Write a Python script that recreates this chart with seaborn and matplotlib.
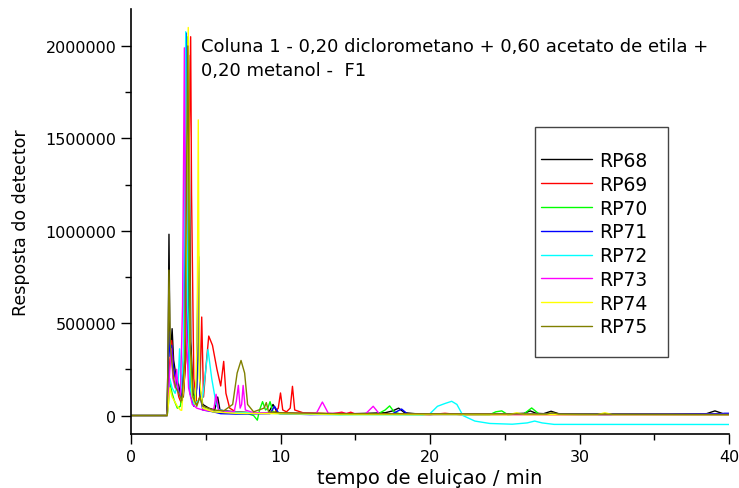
import matplotlib
matplotlib.use("Agg")
import matplotlib.pyplot as plt
import seaborn as sns
import pandas as pd
from matplotlib.ticker import MultipleLocator, FuncFormatter
from matplotlib.patches import Rectangle

# ---- data (time in min, detector response) ----
series_names = ["RP68", "RP69", "RP70", "RP71", "RP72", "RP73", "RP74", "RP75"]
series_colors = ["#000000", "#ff0000", "#00ff00", "#0000ff", "#00ffff", "#ff00ff", "#ffff00", "#808000"]

rp68 = [(0, 0), (2.40, 0), (2.48, 300000), (2.54, 981000), (2.60, 420000), (2.68, 380000), (2.75, 470000),
        (2.85, 300000), (3.0, 220000), (3.15, 180000), (3.3, 120000), (3.5, 100000), (3.65, 300000),
        (3.85, 1950000), (4.0, 400000), (4.15, 120000), (4.35, 80000), (4.45, 300000), (4.52, 860000),
        (4.6, 150000), (4.8, 60000), (5.2, 40000), (5.6, 30000), (5.8, 100000), (5.95, 30000), (6.3, 25000),
        (7.0, 20000), (8.0, 15000), (9.2, 15000), (9.5, 60000), (9.8, 15000), (11, 12000), (13, 10000),
        (15, 10000), (17.0, 15000), (17.5, 25000), (17.9, 40000), (18.3, 15000), (19, 10000), (22, 8000),
        (25, 8000), (26.3, 12000), (26.7, 25000), (27.1, 12000), (27.6, 10000), (28.1, 23000), (28.6, 10000),
        (30, 8000), (33, 8000), (36, 8000), (38.5, 10000), (39.06, 25000), (39.6, 10000), (40, 10000)]

rp69 = [(0, 0), (2.42, 0), (2.5, 150000), (2.6, 300000), (2.72, 406000), (2.85, 250000), (3.0, 180000),
        (3.2, 100000), (3.35, 70000), (3.5, 120000), (3.75, 400000), (3.9, 1500000), (3.99, 2050000),
        (4.05, 1200000), (4.1, 873000), (4.2, 200000), (4.4, 60000), (4.6, 100000), (4.73, 533000),
        (4.85, 100000), (5.0, 250000), (5.2, 430000), (5.45, 380000), (5.75, 250000), (6.0, 160000),
        (6.2, 293000), (6.35, 120000), (6.6, 40000), (7.0, 20000), (8.0, 15000), (9.6, 15000), (9.85, 40000),
        (10.0, 122000), (10.15, 30000), (10.4, 20000), (10.65, 40000), (10.8, 158000), (10.95, 30000),
        (11.5, 15000), (13.5, 10000), (14.1, 18000), (14.4, 10000), (14.7, 18000), (15.0, 8000), (20, 5000),
        (21, 12000), (22, 5000), (30, 5000), (40, 5000)]

rp70 = [(0, 0), (2.42, 0), (2.5, 60000), (2.6, 180000), (2.75, 120000), (2.9, 80000), (3.1, 40000),
        (3.3, 50000), (3.5, 150000), (3.62, 600000), (3.75, 2050000), (3.85, 600000), (4.0, 150000),
        (4.2, 60000), (4.4, 200000), (4.5, 965000), (4.6, 150000), (4.8, 40000), (5.5, 20000), (6.0, 15000),
        (7.0, 10000), (7.8, 10000), (8.2, 0), (8.45, -25000), (8.6, 30000), (8.8, 75000), (9.0, 30000),
        (9.15, 40000), (9.3, 75000), (9.5, 20000), (10, 10000), (14, 5000), (16.5, 8000), (17.0, 30000),
        (17.3, 52000), (17.6, 20000), (18, 8000), (24, 5000), (24.4, 20000), (24.8, 25000), (25.2, 5000),
        (26.3, 10000), (26.8, 41000), (27.3, 8000), (30, 5000), (40, 5000)]

rp71 = [(0, 0), (2.42, 0), (2.48, 250000), (2.54, 452000), (2.62, 320000), (2.72, 380000), (2.85, 250000),
        (3.0, 200000), (3.2, 130000), (3.4, 100000), (3.55, 400000), (3.7, 2070000), (3.8, 500000),
        (3.95, 120000), (4.2, 50000), (4.4, 150000), (4.5, 862000), (4.6, 120000), (4.8, 30000), (5.5, 20000),
        (6.0, 10000), (7, 8000), (9.3, 10000), (9.6, 50000), (9.9, 10000), (12, 5000), (17.5, 10000),
        (18.1, 35000), (18.5, 8000), (20, 5000), (30, 8000), (36, 8000), (39.5, 10000), (39.7, 12000),
        (40, 12000)]

rp72 = [(0, 0), (2.42, 0), (2.5, 80000), (2.6, 200000), (2.75, 150000), (2.95, 120000), (3.15, 180000),
        (3.25, 361000), (3.35, 150000), (3.5, 300000), (3.66, 2077000), (3.78, 600000), (3.95, 150000),
        (4.2, 60000), (4.5, 80000), (4.8, 100000), (5.15, 357000), (5.4, 200000), (5.7, 60000), (5.9, 30000),
        (6.5, 20000), (8, 15000), (10, 10000), (14, 5000), (19.5, 3000), (20.0, 10000), (20.5, 50000),
        (21.0, 65000), (21.45, 77000), (21.8, 60000), (22.2, 0), (23.0, -30000), (24.0, -43000),
        (25.5, -47000), (26.5, -40000), (27.0, -30000), (27.5, -40000), (28.3, -48000), (40, -48500)]

rp73 = [(0, 0), (2.42, 0), (2.5, 100000), (2.6, 250000), (2.7, 361000), (2.8, 200000), (2.95, 150000),
        (3.05, 250000), (3.15, 130000), (3.3, 100000), (3.45, 600000), (3.57, 1990000), (3.68, 500000),
        (3.85, 150000), (4.1, 60000), (4.4, 40000), (4.8, 30000), (5.3, 25000), (5.55, 40000), (5.69, 115000),
        (5.85, 30000), (6.3, 20000), (6.9, 20000), (7.05, 80000), (7.18, 163000), (7.3, 40000), (7.4, 60000),
        (7.5, 163000), (7.65, 30000), (8.2, 15000), (10, 12000), (12.4, 12000), (12.8, 73000), (13.2, 12000),
        (15.7, 10000), (16.2, 50000), (16.6, 10000), (20, 8000), (30, 5000), (40, 5000)]

rp74 = [(0, 0), (2.42, 0), (2.5, 60000), (2.6, 150000), (2.75, 100000), (2.9, 80000), (3.1, 50000),
        (3.3, 30000), (3.39, 28000), (3.55, 200000), (3.7, 900000), (3.83, 2100000), (3.95, 400000),
        (4.1, 100000), (4.3, 60000), (4.42, 400000), (4.5, 1600000), (4.58, 200000), (4.8, 40000),
        (5.5, 20000), (7, 12000), (10, 10000), (15, 5000), (25.3, 5000), (25.8, 15000), (26.3, 5000),
        (31.2, 5000), (31.7, 15000), (32.2, 5000), (40, 5000)]

rp75 = [(0, 0), (2.42, 0), (2.47, 300000), (2.54, 787000), (2.62, 400000), (2.72, 300000), (2.85, 200000),
        (3.0, 150000), (3.2, 120000), (3.4, 80000), (3.6, 300000), (3.8, 2000000), (3.95, 400000),
        (4.15, 100000), (4.4, 50000), (4.6, 100000), (4.8, 50000), (5.5, 30000), (6.2, 25000), (6.8, 60000),
        (7.1, 230000), (7.36, 298000), (7.6, 230000), (7.8, 60000), (8.2, 20000), (8.9, 40000), (9.05, 70000),
        (9.2, 20000), (10, 15000), (14, 10000), (27.8, 8000), (28.2, 15000), (28.6, 8000), (40, 5000)]

y_ticks = [0, 500000, 1000000, 1500000, 2000000]
x_ticks = [0, 10, 20, 30, 40]

title_lines = ["Coluna 1 - 0,20 diclorometano + 0,60 acetato de etila +", "0,20 metanol -  F1"]

# ---- build long-form table ----
rows = []
for name, pts in zip(series_names, [rp68, rp69, rp70, rp71, rp72, rp73, rp74, rp75]):
    for t, v in pts:
        rows.append({"tempo": t, "resp": v, "serie": name})
df = pd.DataFrame(rows)

sns.set_theme(style="ticks")
plt.rcParams["font.family"] = ["DejaVu Sans"]
plt.rcParams["text.color"] = "black"
plt.rcParams["axes.labelcolor"] = "black"
plt.rcParams["xtick.color"] = "black"
plt.rcParams["ytick.color"] = "black"

fig = plt.figure(figsize=(7.39, 4.89), dpi=100)
ax = fig.add_axes([131 / 739, 1 - 435 / 489, (729 - 131) / 739, (435 - 10) / 489])

sns.lineplot(data=df, x="tempo", y="resp", hue="serie", hue_order=series_names,
             palette=dict(zip(series_names, series_colors)), estimator=None, sort=False,
             linewidth=1.0, ax=ax, legend=True)

ax.set_xlim(0, 40)
ax.set_ylim(-100000, 2200000)
ax.set_xticks(x_ticks)
ax.set_yticks(y_ticks)
ax.xaxis.set_minor_locator(MultipleLocator(5))
ax.yaxis.set_minor_locator(MultipleLocator(250000))
ax.yaxis.set_major_formatter(FuncFormatter(lambda v, p: f"{int(v)}"))
ax.tick_params(axis="both", which="major", length=7, width=1, labelsize=11.5, colors="black")
ax.tick_params(axis="both", which="minor", length=4, width=1, colors="black")
sns.despine(ax=ax)
for s in ["left", "bottom"]:
    ax.spines[s].set_linewidth(1.2)
    ax.spines[s].set_color("black")

ax.set_xlabel("tempo de eluiçao / min", fontsize=14, labelpad=3, color="black")
ax.set_ylabel("Resposta do detector", fontsize=12.5, labelpad=11, color="black")

ax.text(4.7, 2000000, title_lines[0], fontsize=13, va="center", ha="left", color="black")
ax.text(4.7, 1870000, title_lines[1], fontsize=13, va="center", ha="left", color="black")

leg = ax.legend(loc="upper left", bbox_to_anchor=(541 / 739, 1 - 152 / 489),
                bbox_transform=fig.transFigure, frameon=False, fontsize=13.5,
                handlelength=2.7, handletextpad=0.38, labelspacing=0.255, borderpad=0, borderaxespad=0)
for line in leg.get_lines():
    line.set_linewidth(1.0)
for txt in leg.get_texts():
    txt.set_color("black")

fig.patches.append(Rectangle((535 / 739, 1 - 358 / 489), (668 - 535) / 739, (358 - 128) / 489,
                             transform=fig.transFigure, fill=False, edgecolor="#444444", linewidth=1.0))

fig.savefig("out.png", dpi=100)
